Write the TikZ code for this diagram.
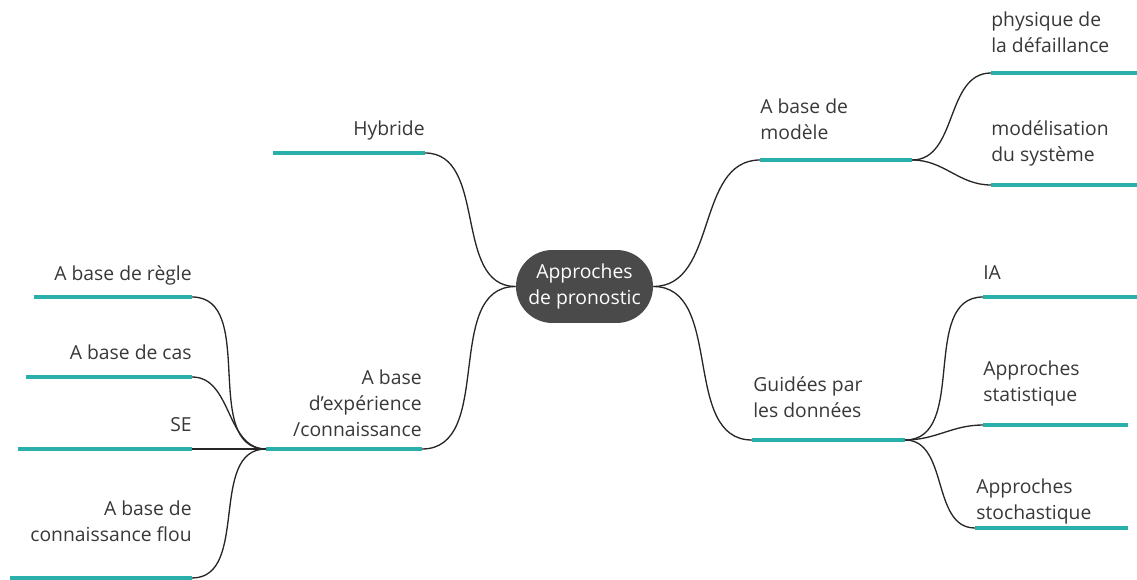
\documentclass[tikz,border=0pt]{standalone}
\usepackage{fontspec}
\setmainfont{Open Sans}
\definecolor{barcol}{RGB}{42,176,172}
\definecolor{txtcol}{RGB}{56,56,56}
\definecolor{hubcol}{RGB}{74,74,74}
\begin{document}
\begin{tikzpicture}[x=0.02cm, y=0.02cm]
    \tikzstyle{every node}+=[inner sep=0pt, text=txtcol, font=\fontsize{11}{15}\selectfont]
    \tikzstyle{bar}=[draw=barcol, line width=2.8pt]
    \tikzstyle{link}=[draw=black!85, line width=0.75pt]
    \tikzstyle{rtxt}=[anchor=base west, align=left]
    \tikzstyle{ltxt}=[anchor=base east, align=right]
    \useasboundingbox (0,0) rectangle (1137,-580);
    \node [fill=hubcol, text=white, rounded corners=0.73cm, minimum width=2.74cm, minimum height=1.46cm, align=center] (hub) at (584.5,-286.5) {Approches\\de pronostic};
    \coordinate (modA) at (760,-160);
    \coordinate (modB) at (912,-160);
    \coordinate (phyA) at (991,-73);
    \coordinate (phyB) at (1137,-73);
    \coordinate (sysA) at (991,-185);
    \coordinate (sysB) at (1137,-185);
    \coordinate (donA) at (752,-440);
    \coordinate (donB) at (905,-440);
    \coordinate (iaA) at (983,-297);
    \coordinate (iaB) at (1137,-297);
    \coordinate (statA) at (983,-425);
    \coordinate (statB) at (1128,-425);
    \coordinate (stoA) at (975,-528);
    \coordinate (stoB) at (1128,-528);
    \coordinate (hybA) at (273,-153);
    \coordinate (hybB) at (425,-153);
    \coordinate (expA) at (266,-449);
    \coordinate (expB) at (422,-449);
    \coordinate (regA) at (34,-297);
    \coordinate (regB) at (192,-297);
    \coordinate (casA) at (26,-377);
    \coordinate (casB) at (192,-377);
    \coordinate (seA) at (18,-449);
    \coordinate (seB) at (192,-449);
    \coordinate (flouA) at (10,-578);
    \coordinate (flouB) at (192,-578);
    \draw [bar] (modA) -- (modB);
    \draw [bar] (phyA) -- (phyB);
    \draw [bar] (sysA) -- (sysB);
    \draw [bar] (donA) -- (donB);
    \draw [bar] (iaA) -- (iaB);
    \draw [bar] (statA) -- (statB);
    \draw [bar] (stoA) -- (stoB);
    \draw [bar] (hybA) -- (hybB);
    \draw [bar] (expA) -- (expB);
    \draw [bar] (regA) -- (regB);
    \draw [bar] (casA) -- (casB);
    \draw [bar] (seA) -- (seB);
    \draw [bar] (flouA) -- (flouB);
    \node [rtxt] (mod) at (760,-140) {A base de\\modèle};
    \node [rtxt] (phy) at (991,-53) {physique de\\la défaillance};
    \node [rtxt] (sys) at (991,-162) {modélisation\\du système};
    \node [rtxt] (don) at (753,-418) {Guidées par\\les données};
    \node [rtxt] (ia) at (983,-280) {IA};
    \node [rtxt] (stat) at (983,-402) {Approches\\statistique};
    \node [rtxt] (sto) at (976,-520) {Approches\\stochastique};
    \node [ltxt] (hyb) at (425,-136) {Hybride};
    \node [ltxt] (exp) at (422,-437) {A base\\d’expérience\\/connaissance};
    \node [ltxt] (reg) at (192,-281) {A base de règle};
    \node [ltxt] (cas) at (192,-360) {A base de cas};
    \node [ltxt] (se) at (192,-432) {SE};
    \node [ltxt] (flou) at (192,-542) {A base de\\connaissance flou};
    \draw [link] (hub.east) to[out=0, in=180] (modA);
    \draw [link] (hub.east) to[out=0, in=180] (donA);
    \draw [link] (hub.west) to[out=180, in=0] (hybB);
    \draw [link] (hub.west) to[out=180, in=0] (expB);
    \draw [link] (modB) to[out=0, in=180] (phyA);
    \draw [link] (modB) to[out=0, in=180] (sysA);
    \draw [link] (donB) to[out=0, in=180] (iaA);
    \draw [link] (donB) to[out=0, in=180] (statA);
    \draw [link] (donB) to[out=0, in=180] (stoA);
    \draw [link] (expA) to[out=180, in=0] (regB);
    \draw [link] (expA) to[out=180, in=0] (casB);
    \draw [link] (expA) -- (seB);
    \draw [link] (expA) to[out=180, in=0] (flouB);
\end{tikzpicture}
\end{document}
